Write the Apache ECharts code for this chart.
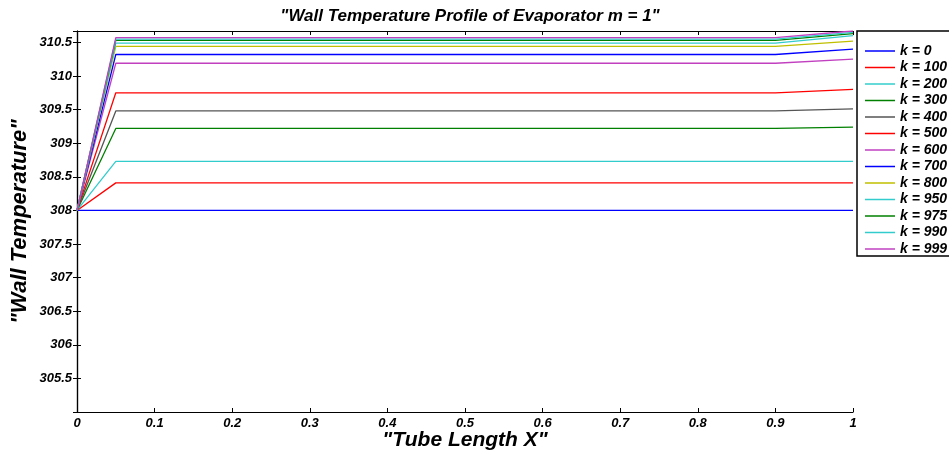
<!DOCTYPE html>
<html>
<head>
<meta charset="UTF-8">
<script src="https://cdn.jsdelivr.net/npm/echarts@6/dist/echarts.min.js"></script>
<style>
  body { margin: 0; background: #fff; }
  #chart { width: 949px; height: 450px; }
</style>
</head>
<body>
<div id="chart"></div>
<script>
// tube positions where the profile changes slope
var xPoints = [0, 0.05, 0.9, 1];
var kNames = ['k = 0', 'k = 100', 'k = 200', 'k = 300', 'k = 400', 'k = 500', 'k = 600',
              'k = 700', 'k = 800', 'k = 950', 'k = 975', 'k = 990', 'k = 999'];
var inletTemp = [308, 308, 308, 308, 308, 308, 308, 308, 308, 308, 308, 308, 308];
var plateauTemp = [308, 308.41, 308.73, 309.22, 309.48, 309.75, 310.19,
                   310.32, 310.44, 310.49, 310.53, 310.55, 310.57];
var outletTemp = [308, 308.41, 308.73, 309.24, 309.51, 309.80, 310.25,
                  310.40, 310.52, 310.60, 310.63, 310.65, 310.67];
var lineColors = ['#0000ff', '#ff0000', '#33cccc', '#008000', '#555555', '#ff0000', '#c040c0',
                  '#0000ff', '#bfbf00', '#33cccc', '#008000', '#33cccc', '#c040c0'];

var font = 'Arial, "Liberation Sans", sans-serif';

var series = [];
for (var i = 0; i < kNames.length; i++) {
  var ys = [inletTemp[i], plateauTemp[i], plateauTemp[i], outletTemp[i]];
  var pts = [];
  for (var j = 0; j < xPoints.length; j++) pts.push([xPoints[j], ys[j]]);
  series.push({
    name: kNames[i],
    type: 'line',
    data: pts,
    symbol: 'none',
    color: lineColors[i],
    lineStyle: { width: 1.3, color: lineColors[i] },
    z: 2 + i
  });
}

var boxAxis = {
  axisLine: { show: true, lineStyle: { color: '#000', width: 1.2 } },
  axisTick: { show: true, inside: true, length: 4, lineStyle: { color: '#000' } },
  splitLine: { show: false }
};

var myChart = echarts.init(document.getElementById('chart'));
var option = {
  animation: false,
  backgroundColor: '#fff',
  title: {
    text: '"Wall Temperature Profile of Evaporator m = 1"',
    left: 465,
    top: 3,
    textAlign: 'center',
    textStyle: { fontFamily: font, fontSize: 17, fontWeight: 'bold', fontStyle: 'italic', color: '#000' }
  },
  legend: {
    orient: 'vertical',
    left: 857,
    top: 31,
    padding: [13, 10, 0, 8],
    itemWidth: 30,
    itemHeight: 14,
    itemGap: 2.5,
    icon: 'path://M0,6.5 L30,6.5 L30,8 L0,8 Z',
    borderColor: '#000',
    borderWidth: 1.5,
    backgroundColor: '#fff',
    data: kNames,
    textStyle: { fontFamily: font, fontSize: 14, fontWeight: 'bold', fontStyle: 'italic', color: '#000' }
  },
  grid: { left: 77, right: 96, top: 31, bottom: 38, outerBoundsMode: 'none', containLabel: false },
  xAxis: [
    Object.assign({}, boxAxis, {
      type: 'value', min: 0, max: 1, interval: 0.1,
      name: '"Tube Length X"',
      nameLocation: 'middle',
      nameGap: 18,
      nameMoveOverlap: false,
      nameTextStyle: { fontFamily: font, fontSize: 21, fontWeight: 'bold', fontStyle: 'italic', color: '#000' },
      axisLabel: { fontFamily: font, fontSize: 13, fontWeight: 'bold', fontStyle: 'italic', color: '#000', margin: 5 }
    }),
    Object.assign({}, boxAxis, {
      type: 'value', min: 0, max: 1, interval: 0.1, position: 'top',
      axisLabel: { show: false }
    })
  ],
  yAxis: [
    Object.assign({}, boxAxis, {
      type: 'value', min: 305, max: 310.67, interval: 0.5,
      name: '"Wall Temperature"',
      nameLocation: 'middle',
      nameGap: 46,
      nameRotate: 90,
      nameMoveOverlap: false,
      nameTextStyle: { fontFamily: font, fontSize: 22, fontWeight: 'bold', fontStyle: 'italic', color: '#000' },
      axisLabel: {
        showMinLabel: false, showMaxLabel: false,
        fontFamily: font, fontSize: 13, fontWeight: 'bold', fontStyle: 'italic', color: '#000', margin: 5
      }
    }),
    Object.assign({}, boxAxis, {
      type: 'value', min: 305, max: 310.67, interval: 0.5, position: 'right',
      axisLabel: { show: false }
    })
  ],
  series: series
};
myChart.setOption(option);
</script>
</body>
</html>
